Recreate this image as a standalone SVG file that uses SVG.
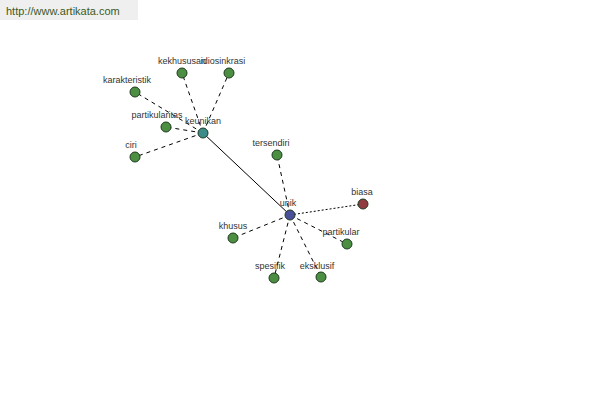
<svg xmlns="http://www.w3.org/2000/svg" width="600" height="400" viewBox="0 0 600 400">
<style>
text{font-family:"Liberation Sans",Arial,sans-serif;font-size:9px;fill:#333;text-anchor:middle}
.n{stroke:#1f3a1f;stroke-width:1}
.g{fill:#4c8f42}
.d{stroke:#000;stroke-width:1;stroke-dasharray:4,4;fill:none}
.o{stroke:#000;stroke-width:1;stroke-dasharray:2,2;fill:none}
</style>
<rect width="600" height="400" fill="#fff"/>
<rect x="0" y="0" width="138" height="20" fill="#efefef"/>
<text x="6" y="15" style="text-anchor:start;font-size:11px;fill:#3b5a25">http://www.artikata.com</text>
<g id="connectors">
<line x1="203" y1="133" x2="290" y2="215" stroke="#000" stroke-width="1"/>
<line class="d" x1="203" y1="133" x2="182" y2="73"/>
<line class="d" x1="203" y1="133" x2="229" y2="73"/>
<line class="d" x1="203" y1="133" x2="135" y2="92"/>
<line class="d" x1="203" y1="133" x2="166" y2="127"/>
<line class="d" x1="203" y1="133" x2="135" y2="157"/>
<line class="d" x1="290" y1="215" x2="277" y2="155"/>
<line class="d" x1="290" y1="215" x2="233" y2="238"/>
<line class="d" x1="290" y1="215" x2="274" y2="278"/>
<line class="d" x1="290" y1="215" x2="321" y2="277"/>
<line class="d" x1="290" y1="215" x2="347" y2="244"/>
<line class="o" x1="290" y1="215" x2="363" y2="204"/>
</g>
<g id="kekhususan"><circle class="n g" cx="182" cy="73" r="5"/><text x="182" y="64">kekhususan</text></g>
<g id="idiosinkrasi"><circle class="n g" cx="229" cy="73" r="5"/><text x="223" y="64">idiosinkrasi</text></g>
<g id="karakteristik"><circle class="n g" cx="135" cy="92" r="5"/><text x="127" y="83">karakteristik</text></g>
<g id="partikularitas"><circle class="n g" cx="166" cy="127" r="5"/><text x="157" y="118">partikularitas</text></g>
<g id="ciri"><circle class="n g" cx="135" cy="157" r="5"/><text x="131" y="148">ciri</text></g>
<g id="keunikan"><circle class="n" fill="#3d8c8c" cx="203" cy="133" r="5"/><text x="203" y="124">keunikan</text></g>
<g id="tersendiri"><circle class="n g" cx="277" cy="155" r="5"/><text x="271" y="146">tersendiri</text></g>
<g id="unik"><circle class="n" fill="#4a4f9a" cx="290" cy="215" r="5"/><text x="288" y="206">unik</text></g>
<g id="biasa"><circle class="n" fill="#8f3b3f" cx="363" cy="204" r="5"/><text x="362" y="195">biasa</text></g>
<g id="khusus"><circle class="n g" cx="233" cy="238" r="5"/><text x="233" y="229">khusus</text></g>
<g id="partikular"><circle class="n g" cx="347" cy="244" r="5"/><text x="341" y="235">partikular</text></g>
<g id="spesifik"><circle class="n g" cx="274" cy="278" r="5"/><text x="270" y="269">spesifik</text></g>
<g id="eksklusif"><circle class="n g" cx="321" cy="277" r="5"/><text x="317" y="269">eksklusif</text></g>
</svg>
